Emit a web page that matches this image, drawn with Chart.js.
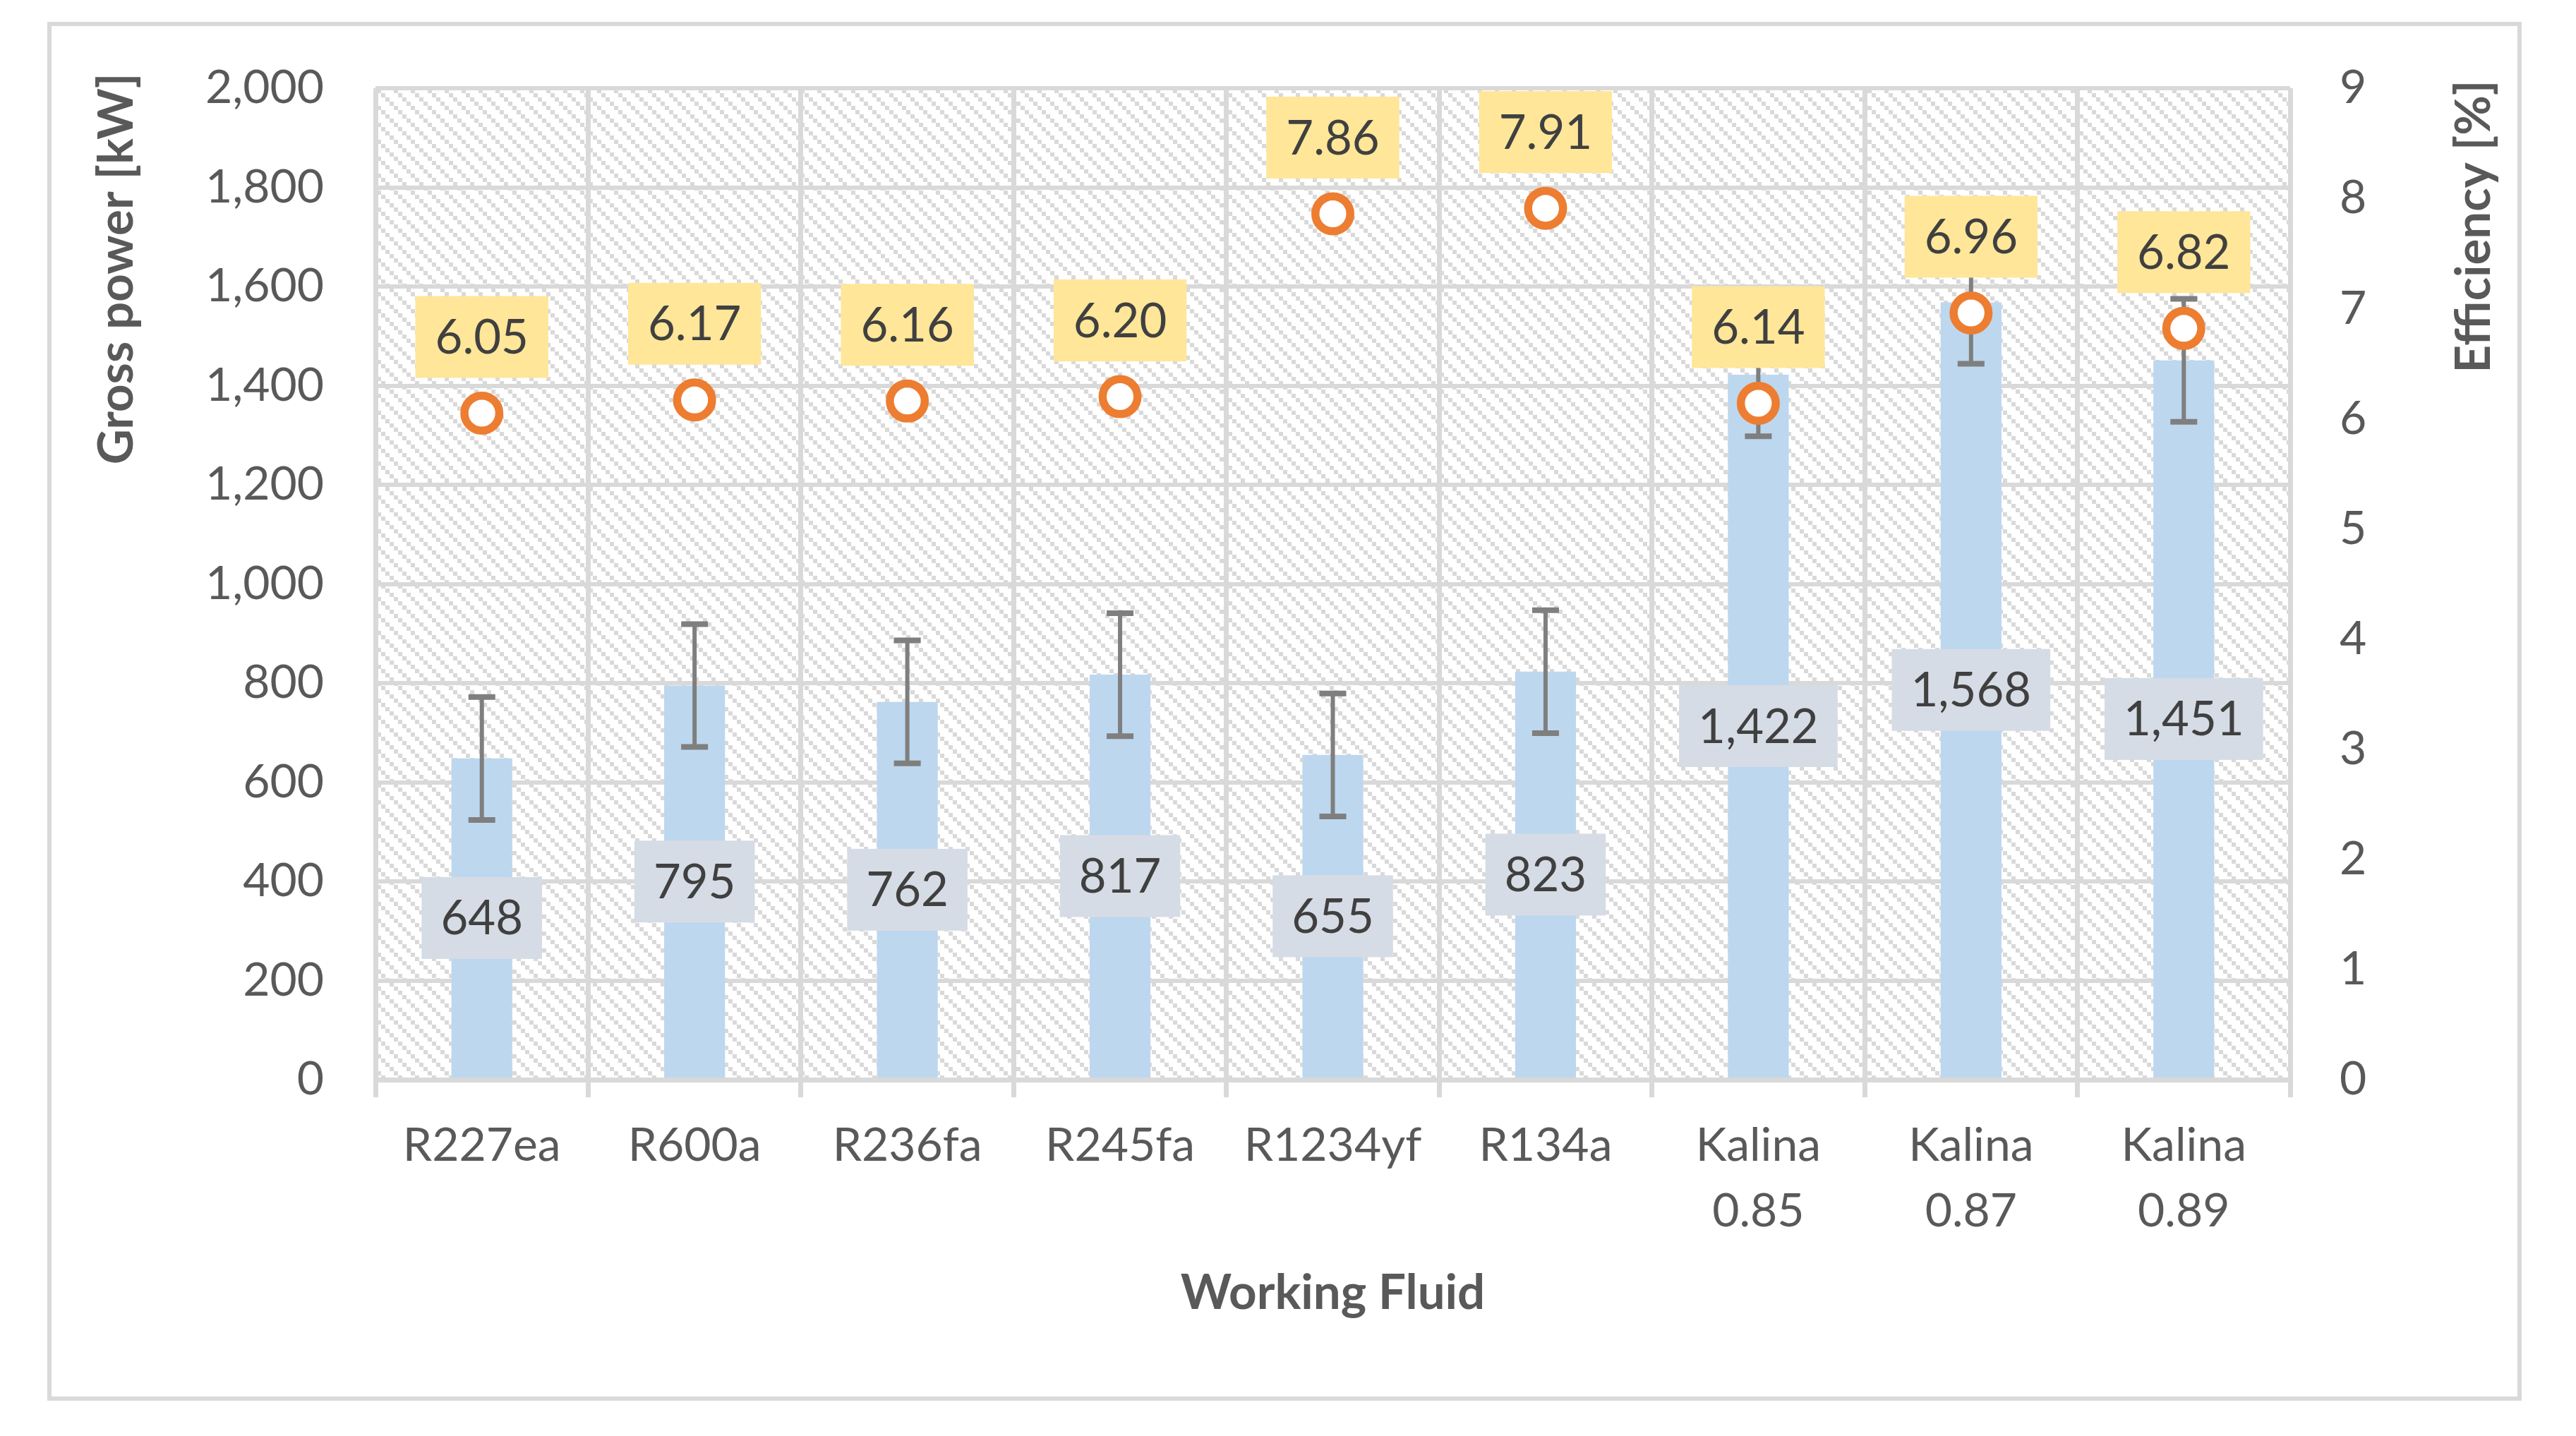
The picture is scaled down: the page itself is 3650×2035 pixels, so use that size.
<!DOCTYPE html>
<html lang="en">
<head>
<meta charset="UTF-8">
<title>Gross power and efficiency by working fluid</title>
<script src="https://cdn.jsdelivr.net/npm/chart.js"></script>
<style>
  html, body { margin: 0; padding: 0; background: #fff; }
  canvas { display: block; }
</style>
</head>
<body>
<canvas id="myChart" width="3650" height="2035"></canvas>
<script>
// Chart data
const fluids = ['R227ea', 'R600a', 'R236fa', 'R245fa', 'R1234yf', 'R134a',
                ['Kalina', '0.85'], ['Kalina', '0.87'], ['Kalina', '0.89']];
const grossPower = [648, 795, 762, 817, 655, 823, 1422, 1568, 1451];   // kW
const powerError = [124, 124, 124, 124, 124, 124, 124, 124, 124];      // kW, +/-
const efficiency = [6.05, 6.17, 6.16, 6.20, 7.86, 7.91, 6.14, 6.96, 6.82]; // %

const FONT = 'Lato';
const GREY_TEXT = '#595959';
const LABEL_TEXT = '#404040';
const GRID = '#D9D9D9';

// diagonal hatch used as plot-area background
const hatch = document.createElement('canvas');
hatch.width = 24;
hatch.height = 24;
const hctx = hatch.getContext('2d');
hctx.fillStyle = '#ffffff';
hctx.fillRect(0, 0, 24, 24);
hctx.fillStyle = GRID;
for (let i = 0; i < 4; i++) hctx.fillRect(i * 6, i * 6, 6, 6);

const backgroundPlugin = {
  id: 'background',
  beforeDraw(chart) {
    const { ctx, chartArea: a } = chart;
    ctx.save();
    ctx.fillStyle = '#ffffff';
    ctx.fillRect(0, 0, chart.width, chart.height);
    ctx.fillStyle = ctx.createPattern(hatch, 'repeat');
    ctx.fillRect(a.left, a.top, a.right - a.left, a.bottom - a.top);
    ctx.restore();
  }
};

// error bars on the power bars, drawn right after the bars
const errorBarPlugin = {
  id: 'errorBars',
  afterDatasetDraw(chart, args) {
    if (args.index !== 0) return;
    const ctx = chart.ctx;
    const y = chart.scales.y;
    ctx.save();
    ctx.strokeStyle = '#7F7F7F';
    args.meta.data.forEach((bar, i) => {
      const top = y.getPixelForValue(grossPower[i] + powerError[i]);
      const bottom = y.getPixelForValue(grossPower[i] - powerError[i]);
      ctx.lineWidth = 6;
      ctx.beginPath();
      ctx.moveTo(bar.x, top);
      ctx.lineTo(bar.x, bottom);
      ctx.stroke();
      ctx.lineWidth = 8;
      ctx.beginPath();
      ctx.moveTo(bar.x - 19, top);
      ctx.lineTo(bar.x + 19, top);
      ctx.moveTo(bar.x - 19, bottom);
      ctx.lineTo(bar.x + 19, bottom);
      ctx.stroke();
    });
    ctx.restore();
  }
};

function drawBox(ctx, text, x, y, fill, pad) {
  const w = ctx.measureText(text).width + pad * 2;
  const h = 116;
  ctx.fillStyle = fill;
  ctx.fillRect(x - w / 2, y - h / 2, w, h);
  ctx.fillStyle = LABEL_TEXT;
  ctx.fillText(text, x, y + 2);
}

// data labels: grey boxes in the bars, yellow boxes above the markers
const labelPlugin = {
  id: 'dataLabels',
  afterDatasetsDraw(chart) {
    const ctx = chart.ctx;
    ctx.save();
    ctx.font = '67px ' + FONT;
    ctx.textAlign = 'center';
    ctx.textBaseline = 'middle';
    chart.getDatasetMeta(0).data.forEach((bar, i) => {
      drawBox(ctx, grossPower[i].toLocaleString('en-US'), bar.x, (bar.y + bar.base) / 2, '#D6DCE5', 27);
    });
    chart.getDatasetMeta(1).data.forEach((pt, i) => {
      drawBox(ctx, efficiency[i].toFixed(2), pt.x, pt.y - 108, '#FFE699', 28);
    });
    ctx.restore();
  }
};

// vertical axis titles (both read bottom to top) and the outer frame
const titlePlugin = {
  id: 'axisTitles',
  afterDraw(chart) {
    const ctx = chart.ctx;
    ctx.save();
    ctx.font = 'bold 69px ' + FONT;
    ctx.fillStyle = GREY_TEXT;
    ctx.textAlign = 'center';
    ctx.textBaseline = 'alphabetic';
    [['Gross power [kW]', 188, 381], ['Efficiency [%]', 3528, 321]].forEach(([t, x, y]) => {
      ctx.save();
      ctx.translate(x, y);
      ctx.rotate(-Math.PI / 2);
      ctx.fillText(t, 0, 0);
      ctx.restore();
    });
    ctx.strokeStyle = GRID;
    ctx.lineWidth = 6;
    ctx.strokeRect(70, 34, 3500, 1948);
    ctx.restore();
  }
};

function drawChart() {
  const ctx = document.getElementById('myChart').getContext('2d');
  new Chart(ctx, {
    type: 'bar',
    data: {
      labels: fluids,
      datasets: [{
        label: 'Gross power',
        data: grossPower,
        backgroundColor: '#BDD7EE',
        barPercentage: 0.286,
        categoryPercentage: 1,
        yAxisID: 'y',
        order: 2
      }, {
        label: 'Efficiency',
        type: 'line',
        data: efficiency,
        showLine: false,
        pointStyle: 'circle',
        pointRadius: 24.75,
        pointBorderWidth: 11.5,
        pointBorderColor: '#ED7D31',
        pointBackgroundColor: '#ffffff',
        yAxisID: 'y1',
        order: 1
      }]
    },
    options: {
      responsive: false,
      devicePixelRatio: 1,
      animation: false,
      layout: { padding: { top: 125, left: 0, right: 0, bottom: 0 } },
      plugins: {
        legend: { display: false },
        tooltip: { enabled: false }
      },
      scales: {
        x: {
          offset: true,
          grid: { color: GRID, lineWidth: 7, tickLength: 25, offset: true, tickColor: GRID },
          border: { display: true, color: GRID, width: 7 },
          ticks: {
            color: GREY_TEXT,
            font: { family: FONT, size: 66, lineHeight: 1.41 },
            padding: 22,
            maxRotation: 0,
            autoSkip: false
          },
          title: {
            display: true,
            text: 'Working Fluid',
            color: GREY_TEXT,
            font: { family: FONT, size: 69, weight: 'bold' },
            padding: { top: 0, bottom: 161 }
          },
          afterFit(scale) { scale.height = 505; }
        },
        y: {
          position: 'left',
          min: 0,
          max: 2000,
          grid: { color: GRID, lineWidth: 6, drawTicks: false },
          border: { display: false },
          ticks: {
            stepSize: 200,
            color: GREY_TEXT,
            font: { family: FONT, size: 66 },
            padding: 73
          },
          afterFit(scale) { scale.width = 532; }
        },
        y1: {
          position: 'right',
          min: 0,
          max: 9,
          grid: { drawOnChartArea: false, drawTicks: false },
          border: { display: false },
          ticks: {
            stepSize: 1,
            color: GREY_TEXT,
            font: { family: FONT, size: 66 },
            padding: 70
          },
          afterFit(scale) { scale.width = 405; }
        }
      }
    },
    plugins: [backgroundPlugin, errorBarPlugin, labelPlugin, titlePlugin]
  });
}

Promise.all([
  document.fonts.load('66px ' + FONT),
  document.fonts.load('bold 69px ' + FONT)
]).catch(() => {}).then(drawChart);
</script>
</body>
</html>
